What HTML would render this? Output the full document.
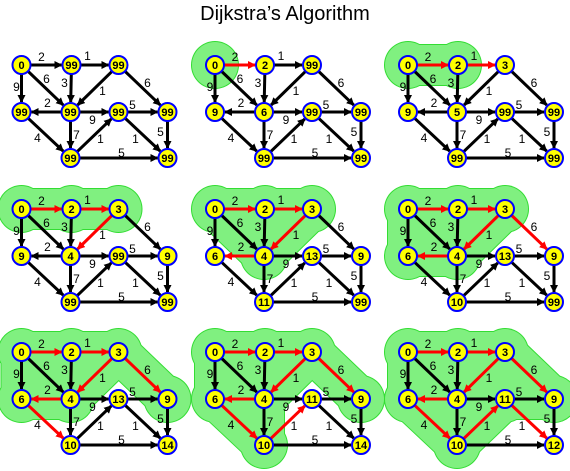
<!DOCTYPE html>
<html><head><meta charset="utf-8"><style>
html,body{margin:0;padding:0;background:#fff;}
svg{display:block;font-family:"Liberation Sans",sans-serif;}
</style></head><body>
<svg id="c" width="570" height="471" viewBox="0 0 570 471">
<defs>
<marker id="ab" markerWidth="8" markerHeight="8" refX="7" refY="4" orient="auto" markerUnits="userSpaceOnUse"><path d="M0,0 L8,4 L0,8 z" fill="#000"/></marker>
<marker id="ar" markerWidth="8" markerHeight="8" refX="7" refY="4" orient="auto" markerUnits="userSpaceOnUse"><path d="M0,0 L8,4 L0,8 z" fill="#f00"/></marker>
</defs>
<text x="285" y="20" text-anchor="middle" font-size="20">Dijkstra’s Algorithm</text>
</svg>
<script>
const nodeIds = ['A','B','C','D','E','F','G','H','I'];
const nodePos = {A:[0,0],B:[50,0],C:[97,0],D:[0,47],E:[49,47],F:[97,47],G:[146,47],H:[49,93],I:[146,93]};
const edges = [['A','B',2],['B','C',1],['A','D',9],['A','E',6],['B','E',3],['C','E',1],['C','G',6],['E','D',2],['E','F',9],['F','G',5],['D','H',4],['E','H',7],['H','F',1],['F','I',1],['G','I',5],['H','I',5]];
const weightPos = {AB:[20,-8],BC:[66,-9],AD:[-5,22],AE:[25,14],BE:[43,18],CE:[81,26],CG:[126,18],ED:[26,38],EF:[71,55],FG:[111,40],DH:[16,73],EH:[55,70],HF:[79,74],FI:[114,74],GI:[139,67],HI:[100,88]};
const panelLabels = [
 [0,99,99,99,99,99,99,99,99],
 [0,2,99,9,6,99,99,99,99],
 [0,2,3,9,5,99,99,99,99],
 [0,2,3,9,4,99,9,99,99],
 [0,2,3,6,4,13,9,11,99],
 [0,2,3,6,4,13,9,10,99],
 [0,2,3,6,4,13,9,10,14],
 [0,2,3,6,4,11,9,10,14],
 [0,2,3,6,4,11,9,10,12]];
const panelRed = [[],['AB'],['AB','BC'],['AB','BC','CE'],['AB','BC','CE','ED'],['AB','BC','CE','ED','CG'],['AB','BC','CE','ED','CG','DH'],['AB','BC','CE','ED','CG','DH','HF'],['AB','BC','CE','ED','CG','DH','HF','FI']];
const panelVisited = [[],['A'],['A','B'],['A','B','C'],['A','B','C','E'],['A','B','C','E','D'],['A','B','C','E','D','G'],['A','B','C','E','D','G','H'],['A','B','C','E','D','G','H','F']];
const originsX=[21.5,215,408], originsY=[65,209,352];
const NS='http://www.w3.org/2000/svg';
const svg=document.getElementById('c');
function mk(t,a,p){const e=document.createElementNS(NS,t);for(const k in a)e.setAttribute(k,a[k]);p.appendChild(e);return e;}
const tris=[['A','B','E'],['B','C','E'],['A','E','D']];
panelLabels.forEach((labels,pi)=>{
  const ox=originsX[pi%3], oy=originsY[Math.floor(pi/3)];
  const g=mk('g',{transform:`translate(${ox},${oy})`},svg);
  
  
  const vis=panelVisited[pi];
  if(vis.length){
    const bg=mk('g',{},g);
    
    
    [['#33dd33',24,21],['#80f080',23,20]].forEach(([col,r,hw])=>{
      vis.forEach(n=>{const [x,y]=nodePos[n];mk('circle',{cx:x,cy:y,r:r,fill:col},bg);});
      edges.forEach(([a,b])=>{if(vis.includes(a)&&vis.includes(b)){const p=nodePos[a],q=nodePos[b];mk('line',{x1:p[0],y1:p[1],x2:q[0],y2:q[1],stroke:col,'stroke-width':hw*2,'stroke-linecap':'round'},bg);}});
      tris.forEach(t=>{if(t.every(n=>vis.includes(n)))mk('polygon',{points:t.map(n=>nodePos[n].join(',')).join(' '),fill:col,stroke:col,'stroke-width':hw*2,'stroke-linejoin':'round'},bg);});
    });
  }
  const red=panelRed[pi];
  edges.forEach(([a,b,w])=>{
    const p=nodePos[a],q=nodePos[b];const dx=q[0]-p[0],dy=q[1]-p[1],L=Math.hypot(dx,dy);
    const ux=dx/L,uy=dy/L;const isR=red.includes(a+b);
    const ln=mk('line',{x1:p[0]+ux*9,y1:p[1]+uy*9,x2:q[0]-ux*10,y2:q[1]-uy*10,stroke:isR?'#f00':'#000','stroke-width':3,'marker-end':isR?'url(#ar)':'url(#ab)'},g);
    
    
    const wp=weightPos[a+b];
    const t=mk('text',{x:wp[0],y:wp[1]+4,'text-anchor':'middle','font-size':12},g);
    t.textContent=w;
    
    
  });
  nodeIds.forEach((n,i)=>{
    const [x,y]=nodePos[n];
    const c=mk('circle',{cx:x,cy:y,r:9,fill:'#ffff00',stroke:'#0000ff','stroke-width':2},g);
    
    
    const t=mk('text',{x:x,y:y+4,'text-anchor':'middle','font-size':11,'font-weight':'bold'},g);
    t.textContent=labels[i];
    
    
  });
});
</script>
</body></html>
